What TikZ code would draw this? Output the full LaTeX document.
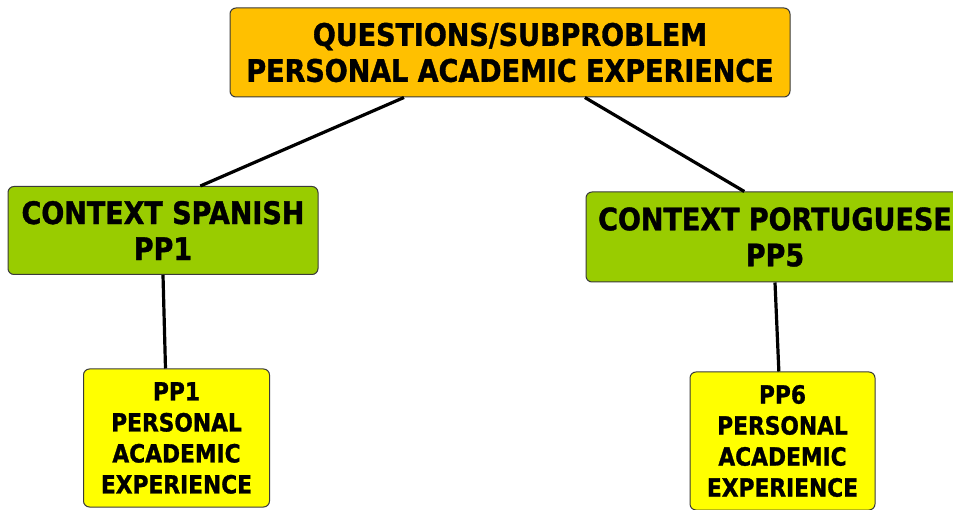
\documentclass[tikz,border=0pt]{standalone}
\usepackage{fontspec}
\setmainfont{DejaVu Sans}[FakeStretch=0.87,BoldFeatures={FakeBold=1.2}]
\usepackage{tikz}
\usetikzlibrary{positioning}
\definecolor{topOrange}{HTML}{FFC000}
\definecolor{ctxGreen}{HTML}{99CC00}
\definecolor{ppYellow}{HTML}{FFFF00}
\definecolor{boxEdge}{HTML}{3A3A3A}

\begin{document}
\begin{tikzpicture}[x=1pt,y=1pt,
    box/.style={draw=boxEdge,line width=1pt,rounded corners=6pt,align=center,
      inner sep=0pt,font=\bfseries\fontsize{31}{36}\selectfont},
    topbox/.style={box,fill=topOrange,minimum width=560pt,minimum height=89pt},
    ctxbox/.style={box,fill=ctxGreen,minimum height=88pt},
    ppbox/.style={box,fill=ppYellow,minimum width=186pt,minimum height=138pt,
      font=\bfseries\fontsize{25}{31}\selectfont},
    link/.style={line width=3.2pt,draw=black}]
    \useasboundingbox (0,0) rectangle (953,509);
    \node[topbox] (question) at (510,456.5) {QUESTIONS/SUBPROBLEM\\PERSONAL ACADEMIC EXPERIENCE};
    \node[ctxbox,minimum width=310pt] (spanish) at (163,278.5) {CONTEXT SPANISH\\PP1};
    \node[ctxbox,minimum width=378pt,minimum height=90pt] (portuguese) at (775,272) {CONTEXT PORTUGUESE\\PP5};
    \node[ppbox] (ppone) at (176.5,71) {PP1\\PERSONAL\\ACADEMIC\\EXPERIENCE};
    \node[ppbox,minimum width=185pt] (ppsix) at (782.5,68) {PP6\\PERSONAL\\ACADEMIC\\EXPERIENCE};
    \draw[link] (question.-157) -- (spanish.50);
    \draw[link] (question.-31) -- (portuguese.124);
    \draw[link] (spanish.south) -- (ppone.99.5);
    \draw[link] (portuguese.south) -- (ppsix.93.7);
\end{tikzpicture}
\end{document}
